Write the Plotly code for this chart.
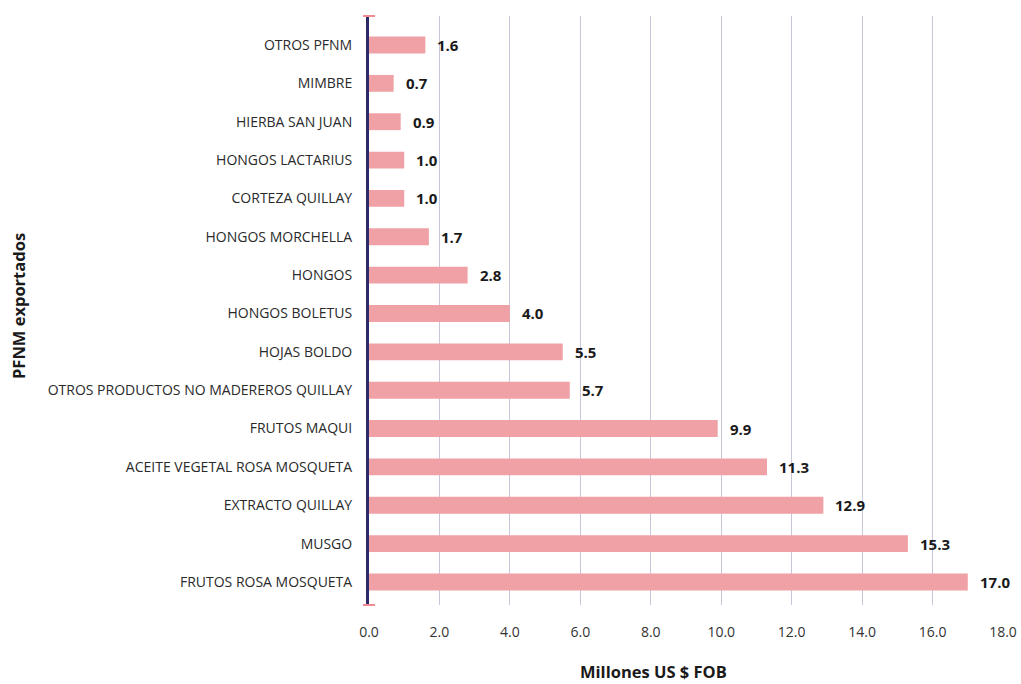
import plotly.graph_objects as go

categories = [
    "OTROS PFNM", "MIMBRE", "HIERBA SAN JUAN", "HONGOS LACTARIUS", "CORTEZA QUILLAY",
    "HONGOS MORCHELLA", "HONGOS", "HONGOS BOLETUS", "HOJAS BOLDO",
    "OTROS PRODUCTOS NO MADEREROS QUILLAY", "FRUTOS MAQUI",
    "ACEITE VEGETAL ROSA MOSQUETA", "EXTRACTO QUILLAY", "MUSGO", "FRUTOS ROSA MOSQUETA",
]
values = [1.6, 0.7, 0.9, 1.0, 1.0, 1.7, 2.8, 4.0, 5.5, 5.7, 9.9, 11.3, 12.9, 15.3, 17.0]
x_ticks = [0, 2, 4, 6, 8, 10, 12, 14, 16, 18]
x_tick_labels = [f"{v:.1f}" for v in x_ticks]

W, H = 1021, 684
L, R, T, B = 369, 18, 16, 79
pw, ph = W - L - R, H - T - B

fig = go.Figure(go.Bar(
    y=categories, x=values, orientation="h",
    marker=dict(color="#f0a1a6", line=dict(width=0)),
    width=0.44,
    cliponaxis=False,
))

for c, v in zip(categories, values):
    fig.add_annotation(x=v, y=c, text=f"<b>{v:.1f}</b>", showarrow=False,
                       xanchor="left", xshift=10, yanchor="middle",
                       font=dict(family="Open Sans", size=15, color="#1a1a1a"))

fig.update_layout(
    width=W, height=H,
    margin=dict(l=L, r=R, t=T, b=B),
    plot_bgcolor="white", paper_bgcolor="white",
    font=dict(family="Open Sans", size=14, color="#2a2a2a"),
    showlegend=False,
)
fig.update_xaxes(
    range=[0, 18], tickvals=x_ticks, ticktext=x_tick_labels,
    showgrid=True, gridcolor="#c9c5da", gridwidth=1, zeroline=False,
    showline=False, ticklabelstandoff=17, automargin=False,
    tickfont=dict(size=14, color="#333"),
)
fig.update_yaxes(
    categoryorder="array", categoryarray=categories,
    range=[len(categories) - 1 + 0.6, -0.756],
    showgrid=False, showline=True, linecolor="#2d2a6b", linewidth=3,
    ticklabelstandoff=11, automargin=False,
    tickfont=dict(size=14, color="#2a2a2a"),
)

fig.add_annotation(text="<b>PFNM exportados</b>", xref="paper", yref="paper",
                   x=(18 - L) / pw, y=(605 - 306) / ph, textangle=-90, showarrow=False,
                   xanchor="center", yanchor="middle",
                   font=dict(size=16.5, color="#1a1a1a"))
fig.add_annotation(text="<b>Millones US $ FOB</b>", xref="paper", yref="paper",
                   x=(653 - L) / pw, y=-(671 - (T + ph)) / ph, showarrow=False,
                   xanchor="center", yanchor="middle",
                   font=dict(size=16.5, color="#1a1a1a"))

for yy in [1.0, 0.0]:
    fig.add_shape(type="line", xref="paper", yref="paper",
                  x0=-6 / pw, x1=6 / pw, y0=yy, y1=yy,
                  line=dict(color="#f08a95", width=2))

fig.write_html("out.html", config={"displayModeBar": False},
               post_script="document.body.style.margin='0';document.body.style.overflow='hidden';")
